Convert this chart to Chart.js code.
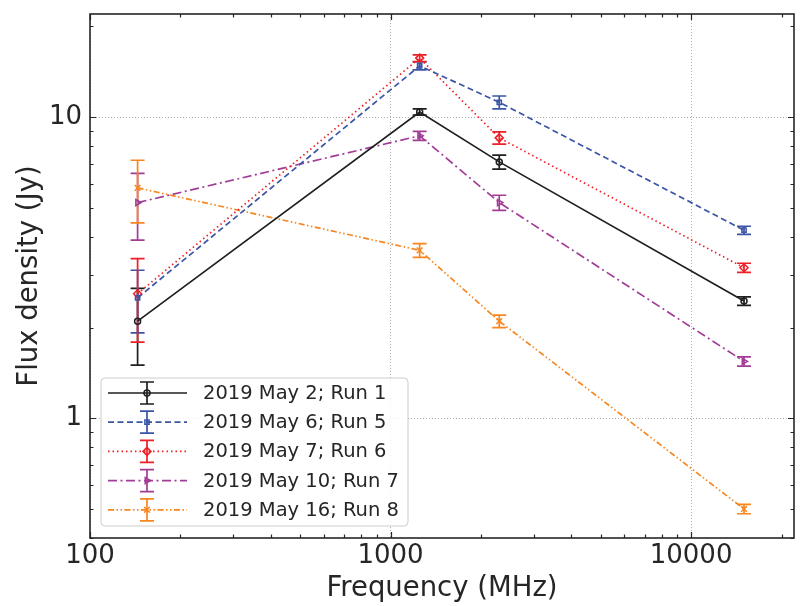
<!DOCTYPE html>
<html>
<head>
<meta charset="utf-8">
<script src="https://cdn.jsdelivr.net/npm/chart.js@4/dist/chart.umd.min.js"></script>
<style>
html,body{margin:0;padding:0;background:#fff;}
#wrap{width:805px;height:606px;position:relative;}
</style>
</head>
<body>
<div id="wrap"><canvas id="c" width="805" height="606"></canvas></div>
<script>
// ---- data ----
const freqs = [144, 1250, 2300, 15000];
const labels = ["2019 May 2; Run 1", "2019 May 6; Run 5", "2019 May 7; Run 6", "2019 May 10; Run 7", "2019 May 16; Run 8"];
const run1 = [2.10, 10.4, 7.10, 2.45];
const run1Err = [0.6, 0.25, 0.38, 0.08];
const run5 = [2.51, 14.8, 11.2, 4.21];
const run5Err = [0.59, 0.45, 0.55, 0.13];
const run6 = [2.59, 15.7, 8.53, 3.16];
const run6Err = [0.8, 0.4, 0.4, 0.11];
const run7 = [5.20, 8.67, 5.20, 1.544];
const run7Err = [1.3, 0.3, 0.3, 0.055];
const run8 = [5.82, 3.61, 2.10, 0.4995];
const run8Err = [1.37, 0.19, 0.1, 0.018];
const xMajorTicks = [100, 1000, 10000];
const yMajorTicks = [1, 10];

const FONT = "'DejaVu Sans', sans-serif";
const TXT = '#262626';

function mk(label, vals, errs, color, dash, style, rot, radius) {
  return {
    label: label,
    data: freqs.map((f, i) => ({x: f, y: vals[i]})),
    errors: errs,
    borderColor: color,
    backgroundColor: 'rgba(0,0,0,0)',
    borderWidth: 1.7,
    borderDash: dash,
    pointStyle: style,
    rotation: rot,
    pointRadius: radius,
    pointBorderWidth: 1.5,
    pointBorderColor: color,
    pointBackgroundColor: 'rgba(0,0,0,0)',
    showLine: true,
    tension: 0,
    fill: false
  };
}

const datasets = [
  mk(labels[0], run1, run1Err, '#1f1f1f', [], 'circle', 0, 3),
  mk(labels[1], run5, run5Err, '#3a55a5', [6, 3.5], 'rect', 0, 3),
  mk(labels[2], run6, run6Err, '#ee1f26', [1.5, 3], 'rectRot', 0, 4),
  mk(labels[3], run7, run7Err, '#a23c97', [9, 3.5, 2, 3.5], 'triangle', 90, 3.5),
  mk(labels[4], run8, run8Err, '#f7861f', [6, 2.5, 1.5, 2.5, 1.5, 2.5], 'crossRot', 0, 4)
];

function logTicks(min, max) {
  const out = [];
  for (let e = -2; e <= 6; e++) {
    for (let m = 1; m <= 9; m++) {
      const v = m * Math.pow(10, e);
      if (v >= min * 0.9999 && v <= max * 1.0001) out.push({value: Number(v.toPrecision(6))});
    }
  }
  return out;
}
function isMajor(v) {
  const l = Math.log10(v);
  return Math.abs(l - Math.round(l)) < 1e-9;
}

const capHalf = 7;

const errPlugin = {
  id: 'errbars',
  beforeDatasetsDraw(chart) {
    const ctx = chart.ctx;
    const ys = chart.scales.y;
    ctx.save();
    chart.data.datasets.forEach((ds, di) => {
      const meta = chart.getDatasetMeta(di);
      ctx.strokeStyle = ds.borderColor;
      ctx.lineWidth = 1.7;
      ctx.setLineDash([]);
      meta.data.forEach((pt, i) => {
        const v = ds.data[i].y, e = ds.errors[i];
        const yt = ys.getPixelForValue(v + e);
        const yb = ys.getPixelForValue(v - e);
        const x = pt.x;
        ctx.beginPath();
        ctx.moveTo(x, yt); ctx.lineTo(x, yb);
        ctx.moveTo(x - capHalf, yt); ctx.lineTo(x + capHalf, yt);
        ctx.moveTo(x - capHalf, yb); ctx.lineTo(x + capHalf, yb);
        ctx.stroke();
      });
    });
    ctx.restore();
  },
  afterDraw(chart) {
    const ctx = chart.ctx;
    const a = chart.chartArea;
    const xs = chart.scales.x, ys = chart.scales.y;
    ctx.save();
    ctx.setLineDash([]);
    ctx.strokeStyle = '#262626';
    // inward ticks on all four sides
    ctx.lineWidth = 1.2;
    xs.ticks.forEach(t => {
      const px = Math.round(xs.getPixelForValue(t.value)) + 0.5;
      if (px < a.left - 0.5 || px > a.right + 0.5) return;
      const L = isMajor(t.value) ? 6 : 3.5;
      ctx.beginPath();
      ctx.moveTo(px, a.bottom); ctx.lineTo(px, a.bottom - L);
      ctx.moveTo(px, a.top); ctx.lineTo(px, a.top + L);
      ctx.stroke();
    });
    ys.ticks.forEach(t => {
      const py = Math.round(ys.getPixelForValue(t.value)) + 0.5;
      if (py < a.top - 0.5 || py > a.bottom + 0.5) return;
      const L = isMajor(t.value) ? 6 : 3.5;
      ctx.beginPath();
      ctx.moveTo(a.left, py); ctx.lineTo(a.left + L, py);
      ctx.moveTo(a.right, py); ctx.lineTo(a.right - L, py);
      ctx.stroke();
    });
    // frame
    ctx.lineWidth = 1.6;
    ctx.strokeRect(a.left, a.top, a.right - a.left, a.bottom - a.top);

    // legend
    const lx = 101, ly = 378, lw = 307, lh = 148, r = 4;
    ctx.beginPath();
    ctx.moveTo(lx + r, ly);
    ctx.arcTo(lx + lw, ly, lx + lw, ly + lh, r);
    ctx.arcTo(lx + lw, ly + lh, lx, ly + lh, r);
    ctx.arcTo(lx, ly + lh, lx, ly, r);
    ctx.arcTo(lx, ly, lx + lw, ly, r);
    ctx.closePath();
    ctx.fillStyle = 'rgba(255,255,255,0.85)';
    ctx.fill();
    ctx.lineWidth = 1;
    ctx.strokeStyle = '#cccccc';
    ctx.stroke();

    chart.data.datasets.forEach((ds, i) => {
      const cy = 393 + i * 29.2;
      const x0 = 108, x1 = 187, xm = 147;
      ctx.strokeStyle = ds.borderColor;
      ctx.lineWidth = 1.7;
      ctx.setLineDash(ds.borderDash);
      ctx.beginPath();
      ctx.moveTo(x0, cy); ctx.lineTo(x1, cy);
      ctx.stroke();
      ctx.setLineDash([]);
      ctx.beginPath();
      ctx.moveTo(xm, cy - 11); ctx.lineTo(xm, cy + 11);
      ctx.moveTo(xm - capHalf, cy - 11); ctx.lineTo(xm + capHalf, cy - 11);
      ctx.moveTo(xm - capHalf, cy + 11); ctx.lineTo(xm + capHalf, cy + 11);
      ctx.stroke();
      ctx.lineWidth = ds.pointBorderWidth;
      ctx.fillStyle = 'rgba(0,0,0,0)';
      Chart.helpers.drawPoint(ctx, {pointStyle: ds.pointStyle, rotation: ds.rotation, radius: ds.pointRadius, borderWidth: ds.pointBorderWidth}, xm, cy);
      ctx.fillStyle = TXT;
      ctx.font = "19.5px " + FONT;
      ctx.textAlign = 'left';
      ctx.textBaseline = 'middle';
      ctx.fillText(ds.label, 203, cy + 1);
    });
    ctx.restore();
  }
};

const gridColor = (ctx, majors) => {
  const v = ctx.tick && ctx.tick.value;
  return (v !== undefined && majors.some(m => Math.abs(m - v) / m < 1e-6)) ? '#b0b0b0' : 'rgba(0,0,0,0)';
};

new Chart(document.getElementById('c'), {
  type: 'scatter',
  data: {datasets: datasets},
  plugins: [errPlugin],
  options: {
    responsive: false,
    animation: false,
    devicePixelRatio: 1,
    layout: {padding: {top: 14, right: 11, left: 0, bottom: 0}},
    plugins: {legend: {display: false}, tooltip: {enabled: false}},
    scales: {
      x: {
        type: 'logarithmic',
        min: 100, max: 22000,
        afterBuildTicks: s => { s.ticks = logTicks(100, 22000); },
        afterFit: s => { s.height = 68; },
        border: {display: false, dash: [1, 2]},
        grid: {
          drawTicks: false,
          lineWidth: 1,
          color: c => gridColor(c, xMajorTicks)
        },
        ticks: {
          autoSkip: false, maxRotation: 0, padding: 5,
          color: TXT,
          font: {family: FONT, size: 26, lineHeight: 1},
          callback: v => xMajorTicks.includes(v) ? String(v) : ''
        },
        title: {
          display: true, text: 'Frequency (MHz)', color: TXT,
          font: {family: FONT, size: 27.5, lineHeight: 1.2},
          padding: {top: 0, bottom: 1}
        }
      },
      y: {
        type: 'logarithmic',
        min: 0.4, max: 22,
        afterBuildTicks: s => { s.ticks = logTicks(0.4, 22); },
        afterFit: s => { s.width = 90; },
        border: {display: false, dash: [1, 2]},
        grid: {
          drawTicks: false,
          lineWidth: 1,
          color: c => gridColor(c, yMajorTicks)
        },
        ticks: {
          autoSkip: false, padding: 8,
          color: TXT,
          font: {family: FONT, size: 26, lineHeight: 0.4},
          callback: v => yMajorTicks.includes(v) ? String(v) : ''
        },
        title: {
          display: true, text: 'Flux density (Jy)', color: TXT,
          font: {family: FONT, size: 27.5, lineHeight: 1.2},
          padding: {top: 13, bottom: 0}
        }
      }
    }
  }
});
</script>
</body>
</html>
